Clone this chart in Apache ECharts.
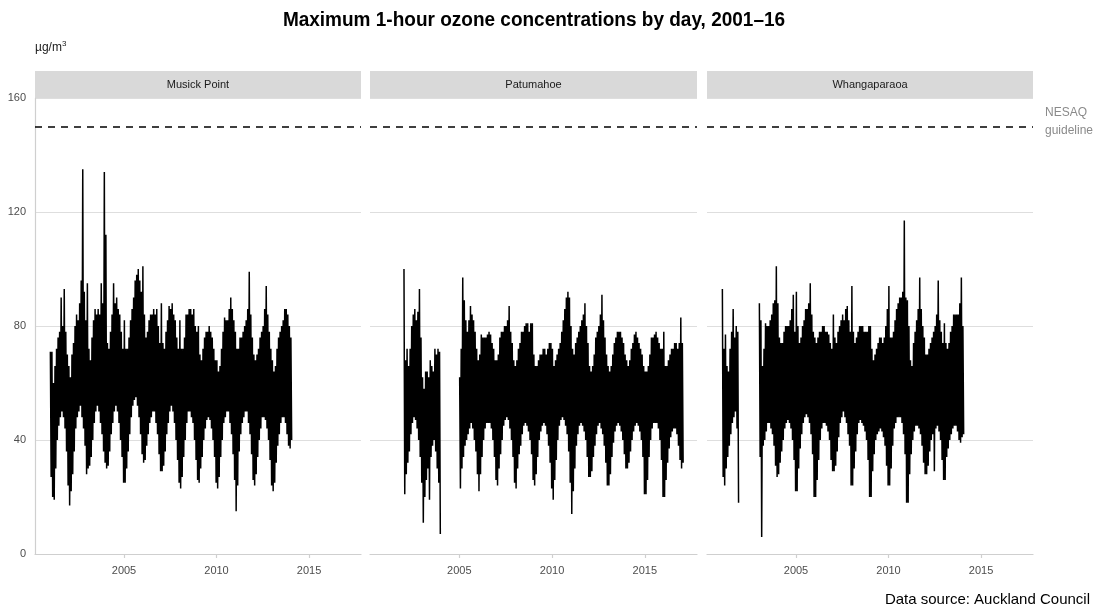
<!DOCTYPE html>
<html>
<head>
<meta charset="utf-8">
<script src="https://cdn.jsdelivr.net/npm/echarts/dist/echarts.min.js"></script>
<style>
  html, body { margin: 0; padding: 0; background: #fff; }
  #chart { width: 1100px; height: 610px; }
</style>
</head>
<body>
<div id="chart"></div>
<script>
// Daily maximum 1-hour ozone (µg/m³), summarised per month as [high, low] pairs,
// one row per calendar year (Jan..Dec). An empty row marks a year with no record.
const sites = ['Musick Point', 'Patumahoe', 'Whangaparaoa'];
const guideline = 150;
const xTicks = [2005, 2010, 2015];

const musickPointStart = 2001;
const musickPoint = [
  [71,27, 71,20, 60,19, 66,30, 72,40, 76,45, 78,48, 90,50, 80,48, 93,44, 78,36, 70,24],
  [66,17, 62,22, 70,28, 74,36, 80,44, 84,48, 82,50, 88,52, 96,48, 135,44, 92,38, 82,28],
  [95,30, 72,31, 68,34, 76,40, 82,46, 86,50, 84,52, 86,50, 84,46, 95,42, 88,36, 134,32],
  [112,30, 74,31, 72,36, 78,42, 84,46, 95,50, 88,52, 90,50, 86,46, 84,40, 78,34, 72,25],
  [82,25, 72,30, 72,36, 76,42, 82,48, 86,52, 90,54, 96,55, 98,52, 100,48, 96,42, 92,35],
  [101,32, 84,33, 76,38, 78,42, 82,46, 84,48, 84,50, 86,50, 84,46, 86,42, 80,35, 74,29],
  [88,29, 74,31, 72,36, 78,42, 82,46, 87,50, 86,52, 88,50, 84,46, 82,40, 76,33, 72,25],
  [82,23, 72,27, 72,34, 76,40, 84,46, 84,50, 86,50, 86,48, 84,46, 86,40, 80,33, 78,26],
  [80,25, 70,30, 68,34, 72,40, 76,44, 78,47, 78,48, 80,47, 78,44, 76,40, 72,34, 68,25],
  [68,23, 64,27, 66,34, 72,40, 78,46, 83,48, 82,50, 82,50, 86,46, 90,42, 86,35, 82,26],
  [78,15, 72,24, 72,36, 76,42, 76,46, 78,48, 80,50, 82,50, 86,46, 99,42, 84,35, 76,26],
  [70,24, 68,28, 70,34, 72,40, 76,44, 78,48, 80,48, 86,47, 94,44, 84,40, 78,33, 72,24],
  [68,22, 64,25, 66,32, 72,38, 76,42, 78,46, 80,48, 82,48, 86,46, 86,42, 84,38, 80,37],
  [76,40]
];

const patumahoeStart = 2002;
const patumahoe = [
  [100,21, 68,28, 72,32, 66,36, 72,42, 80,46, 84,48, 86,47, 82,44, 85,40, 93,34, 76,25],
  [62,11, 58,20, 64,26, 64,30, 62,19, 68,34, 66,38, 64,40, 72,36, 70,30, 72,25, 71,7],
  [],
  [62,23, 72,30, 97,34, 89,38, 82,40, 78,42, 82,44, 87,46, 84,44, 82,40, 78,36, 72,28],
  [68,22, 70,28, 77,34, 76,40, 76,44, 76,46, 77,46, 78,46, 77,44, 74,40, 72,34, 68,26],
  [68,24, 70,30, 76,35, 78,40, 78,45, 80,47, 80,48, 82,47, 87,44, 78,40, 74,34, 68,25],
  [66,23, 68,30, 72,35, 74,38, 78,42, 78,45, 80,46, 81,45, 81,43, 78,40, 81,35, 81,26],
  [70,24, 66,28, 66,34, 68,40, 70,43, 70,45, 72,46, 72,45, 70,42, 72,38, 74,32, 74,23],
  [72,19, 66,26, 68,33, 70,40, 72,45, 74,47, 78,48, 82,47, 86,45, 90,42, 92,36, 90,25],
  [80,14, 72,22, 70,30, 74,38, 76,42, 78,45, 80,46, 82,45, 84,43, 88,40, 80,34, 74,27],
  [66,27, 64,29, 66,34, 70,38, 76,42, 78,45, 80,46, 84,44, 91,42, 82,38, 76,32, 70,24],
  [66,24, 64,28, 66,34, 70,39, 74,43, 76,45, 78,46, 78,45, 78,43, 76,40, 74,35, 70,30],
  [68,30, 66,32, 68,36, 72,40, 74,43, 77,45, 78,46, 76,45, 74,43, 72,40, 70,34, 66,21],
  [64,21, 64,26, 66,34, 70,40, 76,44, 76,46, 77,46, 78,46, 76,44, 74,40, 72,33, 72,20],
  [78,20, 66,26, 66,32, 68,37, 70,41, 72,43, 72,44, 74,44, 74,42, 72,38, 74,33, 83,30],
  [74,32]
];

const whangaparaoaStart = 2001;
const whangaparaoa = [
  [93,27, 72,24, 77,30, 66,34, 64,38, 72,42, 78,46, 86,48, 76,50, 80,44, 78,18],
  [],
  [88,34, 82,6, 66,38, 72,40, 81,43, 80,46, 80,46, 82,44, 84,42, 88,38, 89,31, 101,27],
  [88,28, 76,32, 74,36, 74,40, 78,44, 80,46, 80,47, 80,46, 82,44, 86,40, 91,33, 78,22],
  [92,22, 80,30, 74,37, 76,42, 80,46, 82,48, 86,49, 86,48, 88,46, 95,42, 84,35, 78,20],
  [76,20, 74,26, 76,33, 78,40, 78,44, 80,46, 80,46, 78,45, 78,43, 77,40, 74,33, 72,29],
  [84,29, 76,31, 74,36, 78,41, 80,46, 82,48, 84,50, 82,48, 86,46, 87,42, 82,38, 78,24],
  [94,24, 78,30, 74,36, 76,42, 78,46, 80,47, 80,46, 80,45, 78,43, 78,40, 78,33, 80,20],
  [80,20, 72,29, 68,35, 70,40, 72,42, 74,43, 76,44, 76,43, 74,41, 76,38, 80,31, 86,24],
  [94,24, 76,30, 76,38, 78,44, 82,46, 86,48, 88,48, 90,48, 90,46, 92,42, 117,35, 90,18],
  [89,18, 80,28, 68,35, 66,40, 74,43, 78,45, 82,45, 86,44, 97,42, 86,38, 80,32, 76,28],
  [70,28, 70,31, 72,36, 74,40, 76,42, 78,29, 80,44, 84,45, 96,43, 82,40, 78,33, 74,26],
  [81,26, 74,34, 72,37, 74,40, 78,42, 80,44, 84,45, 84,45, 84,43, 84,40, 88,39, 97,41],
  [80,42]
];

// Turn [high, low] monthly pairs into a zig-zag trace on a decimal-year axis.
function toPoints(startYear, rows) {
  const pts = [];
  rows.forEach(function (row, i) {
    const yr = startYear + i;
    if (!row.length) { pts.push([yr + 0.5, null]); return; }
    for (let k = 0; k < row.length; k += 2) {
      const m = k / 2;
      pts.push([yr + (m + 0.25) / 12, row[k]]);
      pts.push([yr + (m + 0.75) / 12, row[k + 1]]);
    }
  });
  return pts;
}

const siteData = [
  toPoints(musickPointStart, musickPoint),
  toPoints(patumahoeStart, patumahoe),
  toPoints(whangaparaoaStart, whangaparaoa)
];

const panelLeft = [35, 370, 707];
const panelWidth = [326, 327, 326];
const panelTop = 98;
const panelHeight = 456;
const axisGrey = '#cfcfcf';
const labelGrey = '#4d4d4d';
const FONT = '"Liberation Sans", Arial, sans-serif';

const grids = [], xAxes = [], yAxes = [], series = [], graphics = [];

sites.forEach(function (name, i) {
  grids.push({ left: panelLeft[i], top: panelTop, width: panelWidth[i], height: panelHeight });
  xAxes.push({
    type: 'value', gridIndex: i, min: 2000.19, max: 2017.81,
    axisLine: { show: true, lineStyle: { color: axisGrey, width: 1.2 } },
    axisTick: { show: true, length: 4, customValues: xTicks, lineStyle: { color: axisGrey, width: 1.2 } },
    axisLabel: { customValues: xTicks, formatter: function (v) { return String(v); },
      color: labelGrey, fontSize: 11, fontFamily: FONT, margin: 11 },
    splitLine: { show: false }
  });
  yAxes.push({
    type: 'value', gridIndex: i, min: 0, max: 160, interval: 40,
    axisLine: { show: i === 0, lineStyle: { color: axisGrey, width: 1.2 } },
    axisTick: { show: false },
    axisLabel: { show: i === 0, color: labelGrey, fontSize: 11, fontFamily: FONT, margin: 9 },
    splitLine: { show: true, lineStyle: { color: '#dedede', width: 1 } }
  });
  series.push({
    name: name, type: 'line', xAxisIndex: i, yAxisIndex: i,
    data: siteData[i], showSymbol: false, symbol: 'none', connectNulls: false,
    lineStyle: { color: '#000', width: 1.5 },
    markLine: {
      silent: true, symbol: 'none', label: { show: false },
      lineStyle: { color: '#000', type: [7, 6], width: 1.6 },
      data: [{ yAxis: guideline }]
    },
    animation: false
  });
  // facet strip
  graphics.push({
    type: 'rect', left: panelLeft[i], top: 71,
    shape: { width: panelWidth[i], height: 28 },
    style: { fill: '#d9d9d9' }, silent: true
  });
  graphics.push({
    type: 'text', x: panelLeft[i] + panelWidth[i] / 2, y: 85,
    style: { text: name, fill: '#1a1a1a', font: '11px ' + FONT, textAlign: 'center', textVerticalAlign: 'middle' }
  });
});

graphics.push({
  type: 'text', x: 534, y: 20, scaleX: 0.95,
  style: { text: 'Maximum 1-hour ozone concentrations by day, 2001\u201316', fill: '#000',
    font: 'bold 20px ' + FONT, textAlign: 'center', textVerticalAlign: 'middle' }
});
graphics.push({
  type: 'text', x: 35, y: 48,
  style: {
    text: 'µg/m{sup|3}', fill: '#1a1a1a', font: '12px ' + FONT, textVerticalAlign: 'middle',
    rich: { sup: { fontSize: 8, verticalAlign: 'top', padding: [0, 0, 8, 0], fill: '#1a1a1a', fontFamily: FONT } }
  }
});
graphics.push({
  type: 'text', x: 1045, y: 113,
  style: { text: 'NESAQ', fill: '#8a8a8a', font: '12px ' + FONT, textVerticalAlign: 'middle' }
});
graphics.push({
  type: 'text', x: 1045, y: 131,
  style: { text: 'guideline', fill: '#8a8a8a', font: '12px ' + FONT, textVerticalAlign: 'middle' }
});
graphics.push({
  type: 'text', x: 1090, y: 600,
  style: { text: 'Data source: Auckland Council', fill: '#000', font: '15px ' + FONT, textAlign: 'right', textVerticalAlign: 'middle' }
});

const chart = echarts.init(document.getElementById('chart'), null, { renderer: 'canvas' });
chart.setOption({
  animation: false,
  backgroundColor: '#fff',
  grid: grids, xAxis: xAxes, yAxis: yAxes, series: series,
  graphic: graphics
});
</script>
</body>
</html>
